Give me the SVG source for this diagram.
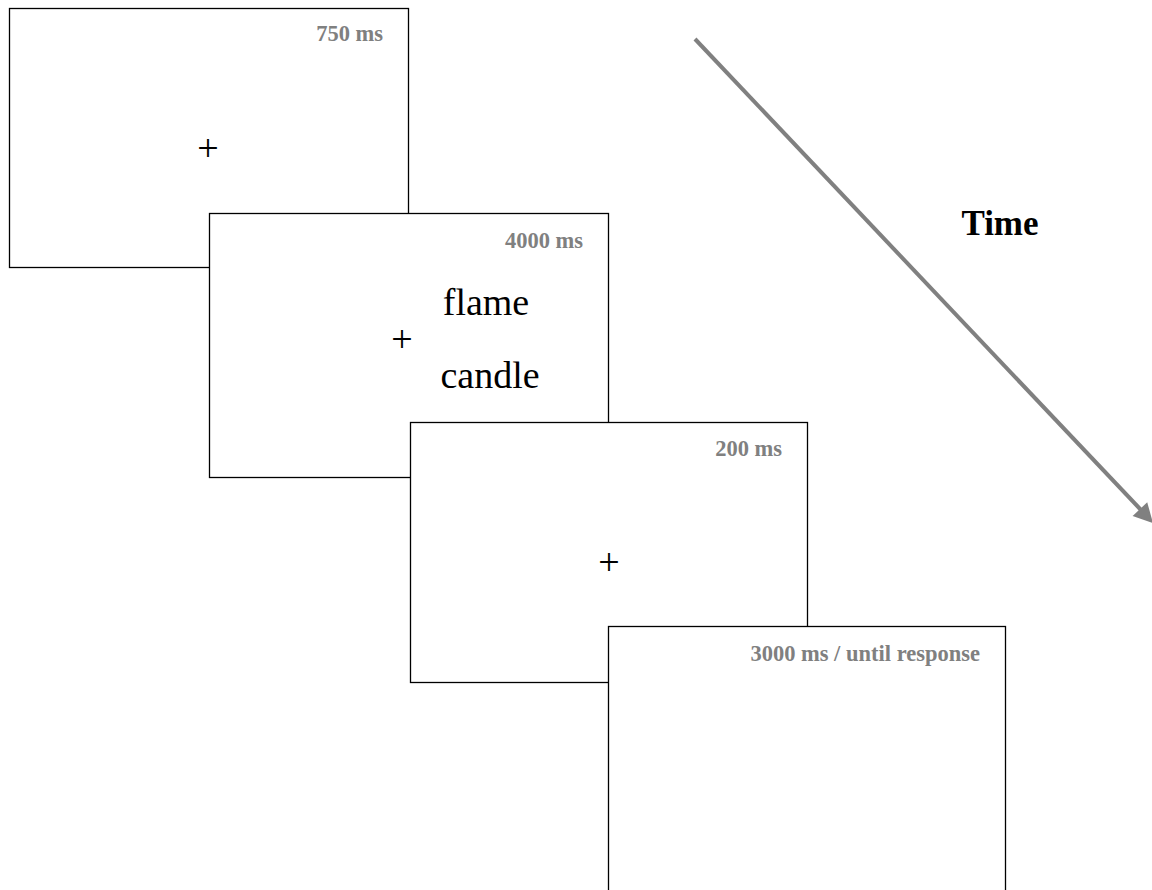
<svg xmlns="http://www.w3.org/2000/svg" width="1152" height="890" viewBox="0 0 1152 890">
<style>
.box{fill:#fff;stroke:#000;stroke-width:1.3}
.lbl{font-family:"Liberation Serif",serif;font-weight:bold;font-size:22.5px;fill:#808080;text-anchor:end}
.fix{font-family:"Liberation Serif",serif;font-size:38px;fill:#000;text-anchor:middle}
.word{font-family:"Liberation Serif",serif;font-size:38px;fill:#000;text-anchor:middle}
</style>
<rect width="1152" height="890" fill="#fff"/>
<g id="screen1">
<rect class="box" x="9.5" y="8.5" width="399" height="259"/>
<text class="lbl" x="383" y="41">750 ms</text>
<text class="fix" x="208" y="161">+</text>
</g>
<g id="screen2">
<rect class="box" x="209.5" y="213.5" width="399" height="264"/>
<text class="lbl" x="583" y="248">4000 ms</text>
<text class="fix" x="402" y="352">+</text>
<text class="word" x="486" y="315">flame</text>
<text class="word" x="490" y="388">candle</text>
</g>
<g id="screen3">
<rect class="box" x="410.5" y="422.5" width="397" height="260"/>
<text class="lbl" x="782" y="456">200 ms</text>
<text class="fix" x="609" y="575">+</text>
</g>
<g id="screen4">
<rect class="box" x="608.5" y="626.5" width="397" height="270"/>
<text class="lbl" x="980" y="661">3000 ms / until response</text>
</g>
<g id="connectors">
<line x1="695" y1="39" x2="1141" y2="510" stroke="#808080" stroke-width="4"/>
<polygon points="1153,523 1132.6,516.1 1147.2,502.3" fill="#808080"/>
</g>
<g id="time-label">
<text x="1000" y="235" font-family="Liberation Serif,serif" font-weight="bold" font-size="35" text-anchor="middle" fill="#000">Time</text>
</g>
</svg>
